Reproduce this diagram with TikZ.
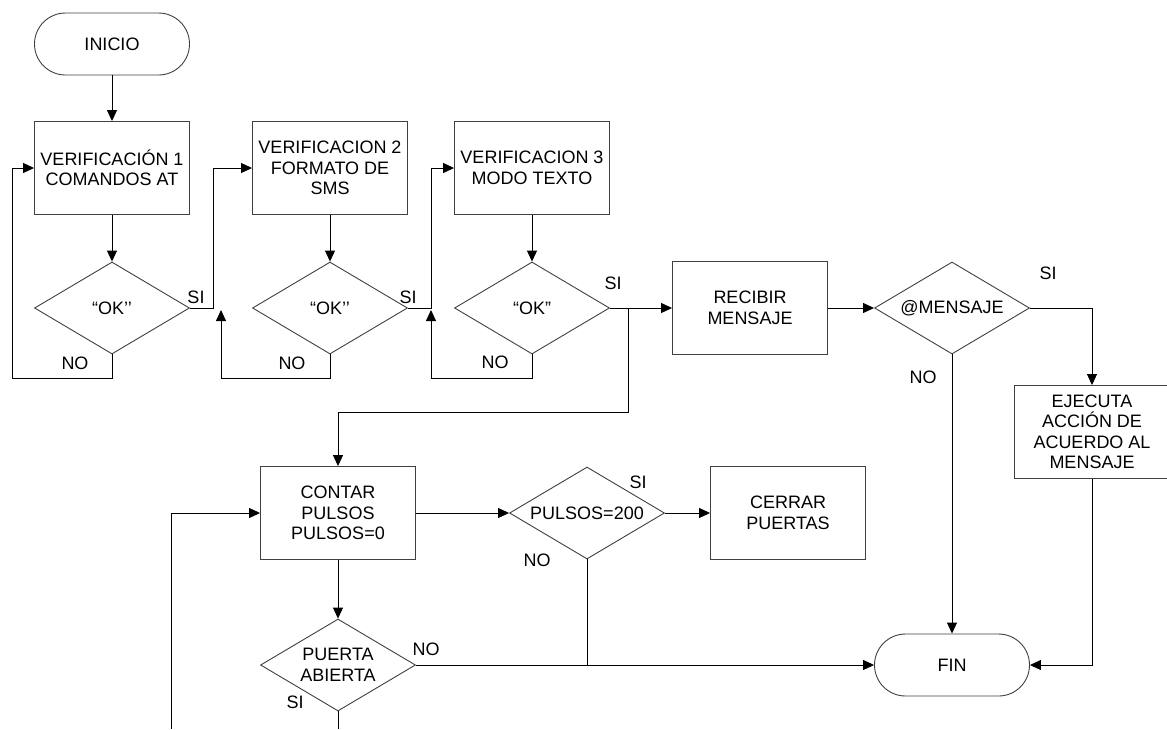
\documentclass[tikz,border=0pt]{standalone}
\usepackage{fontspec}
\setmainfont{Liberation Sans}
\usetikzlibrary{arrows.meta,shapes.geometric}

\tikzset{
  every node/.style={font=\fontsize{18}{20.5}\selectfont, align=center},
  shapeline/.style={draw=black!75, line width=0.9pt, inner sep=0pt},
  procbox/.style={shapeline, rectangle, minimum width=155pt, minimum height=93pt},
  termbox/.style={shapeline, rectangle, rounded corners=31pt, minimum width=155pt, minimum height=62pt},
  decision/.style={shapeline, diamond, aspect=1.685, minimum width=155pt, minimum height=92pt},
  link/.style={line width=0.9pt, black},
  arr/.style={link, -{Triangle[length=11pt,width=10pt]}},
  tag/.style={inner sep=0pt}
}

\begin{document}
\begin{tikzpicture}[x=1pt, y=-1pt]
\useasboundingbox (0,0) rectangle (1167,729);

% start and the three modem checks
\node[termbox]  (ini) at (112,44)  {INICIO};
\node[procbox]  (v1)  at (112,168) {VERIFICACIÓN 1\\COMANDOS AT};
\node[decision] (ok1) at (112,308) {“OK’’};
\node[procbox]  (v2)  at (330,168) {VERIFICACION 2\\FORMATO DE\\SMS};
\node[decision] (ok2) at (330,308) {“OK’’};
\node[procbox]  (v3)  at (532,168) {VERIFICACION 3\\MODO TEXTO};
\node[decision] (ok3) at (532,308) {“OK”};

% message handling
\node[procbox]  (rec) at (750,308)  {RECIBIR\\MENSAJE};
\node[decision] (msg) at (952,308)  {@MENSAJE};
\node[procbox]  (eje) at (1092,432) {EJECUTA\\ACCIÓN DE\\ACUERDO AL\\MENSAJE};
\node[termbox]  (fin) at (952,665)  {FIN};

% pulse counting
\node[procbox]  (cnt) at (338,513) {CONTAR\\PULSOS\\PULSOS=0};
\node[decision] (pul) at (587,513) {PULSOS=200};
\node[procbox]  (cer) at (788,513) {CERRAR\\PUERTAS};
\node[decision] (pue) at (338,665) {PUERTA\\ABIERTA};

% helper points
\coordinate (j1) at (221,310);
\coordinate (j2) at (431,310);
\coordinate (br) at (628,308);
\coordinate (pb) at (587,665);
\coordinate (cutA) at (338,729);
\coordinate (cutB) at (171,729);

% connectors
\draw[arr] (ini) -- (v1);
\draw[arr] (v1) -- (ok1);
\draw[arr] (ok1.east) -- ++(23,0) |- (v2.west);
\draw[arr] (ok1.south) |- (12,378) |- (v1.west);
\draw[arr] (v2) -- (ok2);
\draw[arr] (ok2.south) |- (221,378) -- (j1);
\draw[arr] (ok2.east) -- (431,308) |- (v3.west);
\draw[arr] (v3) -- (ok3);
\draw[arr] (ok3.south) |- (431,378) -- (j2);
\draw[arr] (ok3.east) -- (rec.west);
\draw[arr] (br) |- (338,412) -- (cnt.north);
\draw[arr] (rec.east) -- (msg.west);
\draw[arr] (msg.east) -| (eje.north);
\draw[arr] (msg.south) -- (fin.north);
\draw[arr] (eje.south) |- (fin.east);
\draw[arr] (cnt.east) -- (pul.west);
\draw[arr] (pul.east) -- (cer.west);
\draw[arr] (cnt.south) -- (pue.north);
\draw[arr] (pue.east) -- (fin.west);
\draw[link] (pul.south) -- (pb);
\draw[link] (pue.south) -- (cutA);
\draw[arr] (cutB) |- (cnt.west);

% branch labels
\node[tag] at (196,297) {SI};
\node[tag] at (75,363)  {NO};
\node[tag] at (408,297) {SI};
\node[tag] at (292,363) {NO};
\node[tag] at (613,283) {SI};
\node[tag] at (495,362) {NO};
\node[tag] at (1048,273) {SI};
\node[tag] at (923,377) {NO};
\node[tag] at (638,482) {SI};
\node[tag] at (537,560) {NO};
\node[tag] at (426,649) {NO};
\node[tag] at (295,702) {SI};
\end{tikzpicture}
\end{document}
